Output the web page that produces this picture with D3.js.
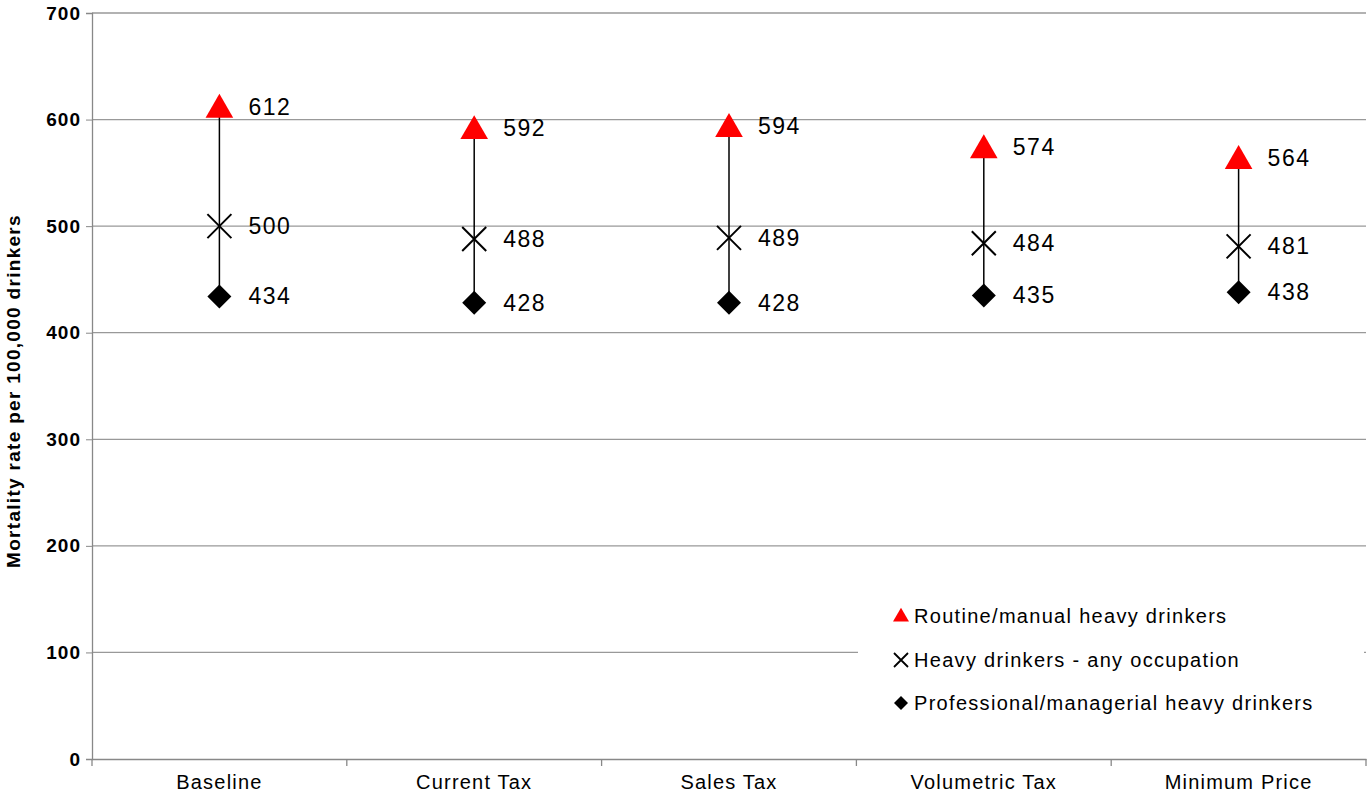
<!DOCTYPE html>
<html>
<head>
<script src="https://d3js.org/d3.v7.min.js"></script>
<style>
  body { margin: 0; background: #fff; font-family: "Liberation Sans", Arial, sans-serif; }
</style>
</head>
<body>
<div id="chart"></div>
<script>
var categories = ["Baseline", "Current Tax", "Sales Tax", "Volumetric Tax", "Minimum Price"];
var routine = [612, 592, 594, 574, 564];
var anyOcc = [500, 488, 489, 484, 481];
var professional = [434, 428, 428, 435, 438];
var yTicks = [0, 100, 200, 300, 400, 500, 600, 700];
var legendLabels = ["Routine/manual heavy drinkers", "Heavy drinkers - any occupation", "Professional/managerial heavy drinkers"];

var W = 1371, H = 800;
var margin = { top: 13, right: 5, bottom: 41, left: 92 };
var width = W - margin.left - margin.right;
var height = H - margin.top - margin.bottom;

var svg = d3.select("#chart").append("svg").attr("width", W).attr("height", H);
var g = svg.append("g").attr("transform", "translate(" + margin.left + "," + margin.top + ")");

var x = d3.scaleBand().domain(categories).range([0, width]);
var y = d3.scaleLinear().domain([0, 700]).range([height, 0]);

// gridlines
g.selectAll(".grid").data(yTicks.slice(1)).enter().append("line")
  .attr("x1", 0).attr("x2", width)
  .attr("y1", function (d) { return y(d); }).attr("y2", function (d) { return y(d); })
  .attr("stroke", "#999").attr("stroke-width", 1.3);

// y axis
var yAxis = g.append("g").call(d3.axisLeft(y).tickValues(yTicks).tickSize(6).tickPadding(5));
yAxis.selectAll("text").style("font-size", "19px").style("font-weight", "bold").style("letter-spacing", "1px")
  .attr("fill", "#000").style("font-family", "Liberation Sans, Arial");
yAxis.select(".domain").attr("stroke", "#888").attr("stroke-width", 1.3);
yAxis.selectAll(".tick line").attr("stroke", "#888");

// x axis
var xAxis = g.append("g").attr("transform", "translate(0," + height + ")")
  .call(d3.axisBottom(x).tickSize(0).tickPadding(16));
xAxis.selectAll("text").style("font-size", "20px").style("letter-spacing", "1.2px").attr("fill", "#000").style("font-family", "Liberation Sans, Arial");
xAxis.select(".domain").attr("stroke", "#888").attr("stroke-width", 1.3);
g.selectAll(".xsep").data(d3.range(categories.length + 1)).enter().append("line")
  .attr("x1", function (i) { return i * x.bandwidth(); }).attr("x2", function (i) { return i * x.bandwidth(); })
  .attr("y1", height).attr("y2", height + 7).attr("stroke", "#888").attr("stroke-width", 1.3);

// y title
svg.append("text").attr("transform", "translate(20," + (margin.top + height / 2 + 5) + ") rotate(-90)")
  .attr("text-anchor", "middle").style("font-size", "19px").style("font-weight", "bold").style("letter-spacing", "1.3px")
  .text("Mortality rate per 100,000 drinkers");

var cx = function (i) { return x(categories[i]) + x.bandwidth() / 2; };

// range lines
g.selectAll(".rng").data(categories).enter().append("line")
  .attr("x1", function (d, i) { return cx(i); }).attr("x2", function (d, i) { return cx(i); })
  .attr("y1", function (d, i) { return y(routine[i]); }).attr("y2", function (d, i) { return y(professional[i]); })
  .attr("stroke", "#000").attr("stroke-width", 1.5);

var tri = d3.symbol().type(d3.symbolTriangle).size(330);
function diamond(s) { return "M0," + -s + "L" + s + ",0L0," + s + "L" + -s + ",0Z"; }
function cross(s) { return "M" + -s + "," + -s + "L" + s + "," + s + "M" + -s + "," + s + "L" + s + "," + -s; }

function series(vals, draw) {
  vals.forEach(function (v, i) {
    draw(g, cx(i), y(v));
    g.append("text").attr("x", cx(i) + 29).attr("y", y(v) + 8).style("font-size", "23px").style("letter-spacing", "1.5px").text(v);
  });
}
series(routine, function (p, px, py) { p.append("path").attr("d", tri()).attr("transform", "translate(" + px + "," + (py + 3) + ")").attr("fill", "#f00"); });
series(anyOcc, function (p, px, py) { p.append("path").attr("d", cross(12)).attr("transform", "translate(" + px + "," + py + ")").attr("stroke", "#000").attr("stroke-width", 2).attr("fill", "none"); });
series(professional, function (p, px, py) { p.append("path").attr("d", diamond(12)).attr("transform", "translate(" + px + "," + py + ")").attr("fill", "#000"); });

// legend
var lg = svg.append("g");
lg.append("rect").attr("x", 858).attr("y", 590).attr("width", 506).attr("height", 140).attr("fill", "#fff");
var ly = [616, 660, 703];
lg.append("path").attr("d", d3.symbol().type(d3.symbolTriangle).size(110)()).attr("transform", "translate(901," + (ly[0] + 1) + ")").attr("fill", "#f00");
lg.append("path").attr("d", cross(7)).attr("transform", "translate(901," + ly[1] + ")").attr("stroke", "#000").attr("stroke-width", 1.8);
lg.append("path").attr("d", diamond(7)).attr("transform", "translate(901," + ly[2] + ")").attr("fill", "#000");
legendLabels.forEach(function (t, i) {
  lg.append("text").attr("x", 914).attr("y", ly[i] + 7).style("font-size", "20px").style("letter-spacing", "1.3px").text(t);
});
</script>
</body>
</html>
